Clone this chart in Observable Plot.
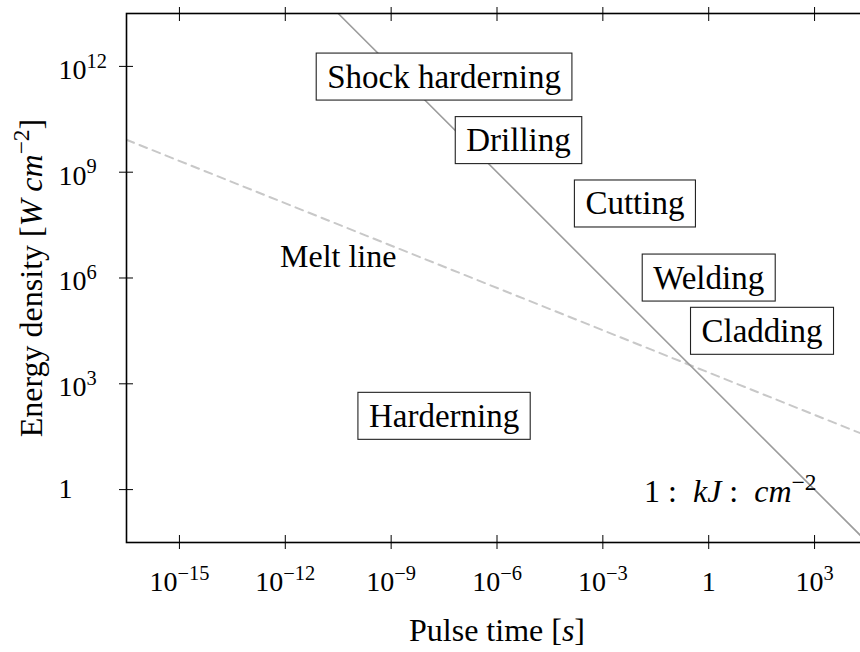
<!DOCTYPE html>
<html><head><meta charset="utf-8">
<script src="https://cdn.jsdelivr.net/npm/d3@7"></script>
<script src="https://cdn.jsdelivr.net/npm/@observablehq/plot@0.6"></script>
<style>
html,body{margin:0;padding:0;background:#fff;overflow:hidden;}
#chart svg{max-width:none !important;}
</style></head><body><div id="chart"></div>
<script>
// ---- data ----
const xTicks = [1e-15, 1e-12, 1e-9, 1e-6, 1e-3, 1, 1e3];
const xTickLabels = ["10^−15^", "10^−12^", "10^−9^", "10^−6^", "10^−3^", "1", "10^3^"];
const yTicks = [1, 1e3, 1e6, 1e9, 1e12];
const yTickLabels = ["1", "10^3^", "10^6^", "10^9^", "10^12^"];
const xDomain = [3.162e-17, 3.162e4];
const yDomain = [0.03162, 3.162e13];
// 1 kJ cm^-2 line (solid)
const fluenceT = [3.162e-11, 3.162e4];
const fluenceE = [3.162e13, 0.03162];
// melt line (dashed)
const meltT = [3.162e-17, 3.162e4];
const meltE = [8.3e9, 33];
// process regions (boxed labels)
const regionNames = ["Shock harderning", "Drilling", "Cutting", "Welding", "Cladding", "Harderning"];
const regionT = [3.16e-8, 4.07e-6, 8.1e-3, 1, 32.4, 3.16e-8];
const regionE = [5.0e11, 7.9e9, 1.26e8, 1e6, 3.09e4, 120];
// free labels
const noteTexts = ["Melt line", "1\u00A0:\u00A0\u00A0_kJ_\u00A0:\u00A0\u00A0_cm_^−2^"];
const noteT = [3.16e-11, 4.07];
const noteE = [4.0e6, 0.85];
const noteSizes = [32, 32];
const xLabel = "Pulse time [_s_]";
const yLabel = "Energy density [_W cm_^−2^]";

const toRows = (a, b) => a.map((v, i) => ({t: v, e: b[i]}));

const chart = Plot.plot({
  width: 880, height: 652,
  marginLeft: 126, marginRight: 13, marginTop: 13, marginBottom: 110,
  style: {fontFamily: "'Liberation Serif', serif", background: "#fff", color: "black"},
  x: {type: "log", domain: xDomain},
  y: {type: "log", domain: yDomain},
  marks: [
    Plot.line(toRows(meltT, meltE), {x: "t", y: "e", stroke: "#c8c8c8", strokeWidth: 2, strokeDasharray: "8,6", clip: true}),
    Plot.line(toRows(fluenceT, fluenceE), {x: "t", y: "e", stroke: "#9c9c9c", strokeWidth: 1.6, clip: true}),
    Plot.axisX({ticks: xTicks, anchor: "bottom", tickSize: 14, dy: -7, fill: "none", label: null, stroke: "black"}),
    Plot.axisX({ticks: xTicks, anchor: "top", tickSize: 14, dy: 7, fill: "none", label: null, stroke: "black"}),
    Plot.axisY({ticks: yTicks, anchor: "left", tickSize: 14, dx: 7, fill: "none", label: null, stroke: "black"}),
    Plot.axisY({ticks: yTicks, anchor: "right", tickSize: 14, dx: -7, fill: "none", label: null, stroke: "black"}),
    Plot.axisX({ticks: xTicks, anchor: "bottom", tickSize: 0, tickPadding: 29, fontSize: 28, label: null,
      tickFormat: d => xTickLabels[xTicks.indexOf(d)]}),
    Plot.axisY({ticks: yTicks, anchor: "left", tickSize: 0, tickPadding: 68, textAnchor: "start", fontSize: 28, label: null,
      tickFormat: d => yTickLabels[yTicks.indexOf(d)]}),
    Plot.frame({stroke: "black", strokeWidth: 1.6}),
    Plot.text(regionNames, {x: (d, i) => regionT[i], y: (d, i) => regionE[i], text: d => d, fontSize: 33, fill: "black"}),
    Plot.text(noteTexts, {x: (d, i) => noteT[i], y: (d, i) => noteE[i], text: d => d, fontSize: (d, i) => noteSizes[i], fill: "black"}),
    Plot.text([xLabel], {frameAnchor: "bottom", lineAnchor: "middle", dy: 88, text: d => d, fontSize: 32, fill: "black"}),
    Plot.text([yLabel], {frameAnchor: "left", lineAnchor: "middle", textAnchor: "middle", rotate: -90, dx: -95, text: d => d, fontSize: 32, fill: "black"})
  ]
});
document.getElementById("chart").append(chart);
chart.style.maxWidth = "none";

const NS = "http://www.w3.org/2000/svg";
function rich(el, fsForce) {
  const s = el.textContent;
  if (!/[_^]/.test(s)) return false;
  const fs = fsForce || parseFloat(getComputedStyle(el).fontSize) || 28;
  const parts = s.split(/(_[^_]*_|\^[^^]*\^)/).filter(p => p !== "");
  el.textContent = "";
  let raised = false;
  for (const p of parts) {
    const ts = document.createElementNS(NS, "tspan");
    if (p[0] === "^") {
      ts.textContent = p.slice(1, -1);
      ts.setAttribute("font-size", (0.73 * fs) + "px");
      ts.setAttribute("dy", (-0.4 * fs).toFixed(2));
      raised = true;
    } else {
      if (p[0] === "_") { ts.textContent = p.slice(1, -1); ts.setAttribute("font-style", "italic"); }
      else ts.textContent = p;
      if (raised) { ts.setAttribute("dy", (0.4 * fs).toFixed(2)); raised = false; }
    }
    el.appendChild(ts);
  }
  return true;
}

// tick labels
chart.querySelectorAll('g[aria-label="x-axis tick label"] text').forEach(t => {
  t.style.fontSize = "28px";
  rich(t, 28); t.setAttribute("y", "0.71em");
});
chart.querySelectorAll('g[aria-label="y-axis tick label"] text').forEach(t => {
  t.style.fontSize = "28px";
  const sup = rich(t, 28); t.setAttribute("y", sup ? "0.44em" : "0.31em");
});
// other texts
chart.querySelectorAll('text').forEach(t => {
  const p = t.parentNode && t.parentNode.getAttribute("aria-label");
  if (p && p.includes("axis")) return;
  rich(t);
});
// boxes around process labels
const names = new Set(regionNames);
chart.querySelectorAll('text').forEach(t => {
  if (!names.has(t.textContent)) return;
  const b = t.getBBox();
  const padX = 11, h = 47;
  const r = document.createElementNS(NS, "rect");
  r.setAttribute("x", b.x - padX);
  r.setAttribute("y", b.y + b.height / 2 - h / 2);
  r.setAttribute("width", b.width + 2 * padX);
  r.setAttribute("height", h);
  r.setAttribute("fill", "white");
  r.setAttribute("stroke", "#222");
  r.setAttribute("stroke-width", "1.1");
  if (t.getAttribute("transform")) r.setAttribute("transform", t.getAttribute("transform"));
  t.parentNode.insertBefore(r, t);
});
</script>
</body></html>
